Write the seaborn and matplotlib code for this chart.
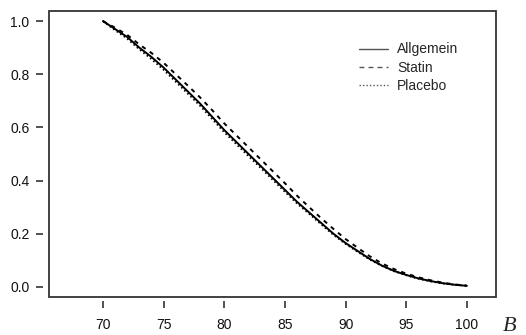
import numpy as np
import pandas as pd
import matplotlib
matplotlib.use("Agg")
import matplotlib.pyplot as plt
import seaborn as sns
from matplotlib.patches import Rectangle
from matplotlib.lines import Line2D

x_vals = list(range(70, 101))
allgemein = [1.000, 0.970, 0.940, 0.900, 0.865, 0.825, 0.780, 0.735, 0.690, 0.640,
             0.590, 0.545, 0.500, 0.455, 0.410, 0.365, 0.320, 0.280, 0.240, 0.200,
             0.165, 0.135, 0.105, 0.080, 0.060, 0.045, 0.032, 0.022, 0.014, 0.008, 0.004]
statin = [1.000, 0.975, 0.948, 0.912, 0.880, 0.843, 0.800, 0.757, 0.713, 0.665,
          0.615, 0.570, 0.525, 0.480, 0.435, 0.390, 0.343, 0.300, 0.258, 0.218,
          0.180, 0.147, 0.115, 0.088, 0.067, 0.050, 0.036, 0.025, 0.016, 0.009, 0.005]
placebo = [1.000, 0.966, 0.934, 0.894, 0.857, 0.817, 0.772, 0.727, 0.682, 0.632,
           0.582, 0.537, 0.492, 0.448, 0.403, 0.358, 0.314, 0.275, 0.235, 0.196,
           0.162, 0.132, 0.103, 0.079, 0.059, 0.044, 0.031, 0.021, 0.013, 0.008, 0.004]
groups = ["Allgemein", "Statin", "Placebo"]
x_ticks = [70, 75, 80, 85, 90, 95, 100]
y_ticks = [0.0, 0.2, 0.4, 0.6, 0.8, 1.0]

df = pd.DataFrame({
    "x": x_vals * 3,
    "y": allgemein + statin + placebo,
    "group": [g for g in groups for _ in x_vals],
})

sns.set_style("white")
plt.rcParams["font.family"] = ["Liberation Sans", "DejaVu Sans"]

fig = plt.figure(figsize=(5.26, 3.35), dpi=100)
ax = fig.add_axes([49/526, 1 - 297/335, (496 - 49)/526, (297 - 11)/335])

dash_map = {"Allgemein": "", "Statin": (2.2, 2.6), "Placebo": (0.8, 1.4)}
sns.lineplot(data=df, x="x", y="y", style="group", dashes=dash_map,
             color="black", linewidth=1.4, ax=ax, legend=False)

ax.set_xlim(65.55, 102.4)
ax.set_ylim(-0.038, 1.038)
ax.set_xticks(x_ticks)
ax.set_xticklabels([str(t) for t in x_ticks])
ax.set_yticks(y_ticks)
ax.set_yticklabels([f"{t:.1f}" for t in y_ticks])
ax.set_xlabel("")
ax.set_ylabel("")

for s in ax.spines.values():
    s.set_visible(False)
ax.spines["left"].set_position(("outward", 4))
ax.spines["bottom"].set_position(("outward", 3))
ax.tick_params(axis="both", which="both", direction="out", length=5, width=1.2,
               color="#333333", labelsize=10, labelcolor="#111111")
ax.tick_params(axis="x", pad=7)
ax.tick_params(axis="y", pad=5)
ax.xaxis.set_ticks_position("bottom")
ax.yaxis.set_ticks_position("left")

ax.add_patch(Rectangle((0, 0), 1, 1, transform=ax.transAxes, fill=False,
                       lw=1.3, edgecolor="#333333", clip_on=False))

handles = [Line2D([], [], color="#555555", lw=1.0, linestyle=ls)
           for ls in ["-", (0, (3.5, 3.0)), (0, (1, 1.5))]]
leg = ax.legend(handles, groups, loc="upper left", bbox_to_anchor=(0.693, 0.89),
                frameon=False, fontsize=10, handlelength=2.1, handletextpad=0.65,
                labelspacing=0.3, borderaxespad=0, borderpad=0)

fig.text(510/526, 1 - 331/335, "B", fontsize=16, style="italic",
         family=["Liberation Serif", "DejaVu Serif"], ha="center", va="baseline")

fig.savefig("out.png", dpi=100)
